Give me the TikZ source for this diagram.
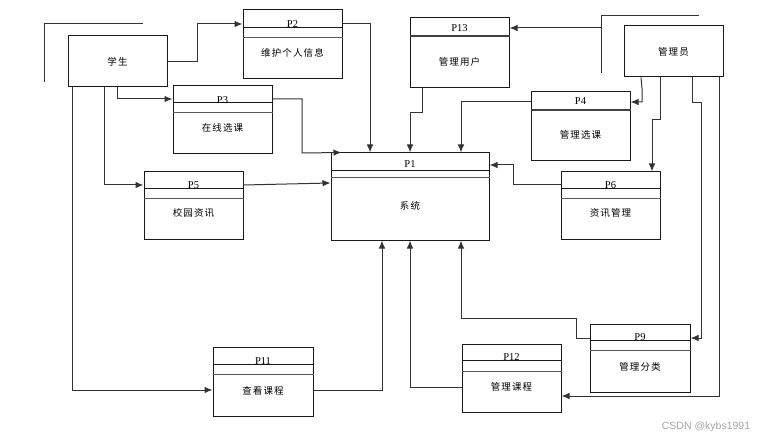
\documentclass[tikz,border=0pt]{standalone}
\usepackage{fontspec}
\setmainfont{Liberation Serif}
\newfontfamily\cjk[LetterSpace=12]{Noto Sans CJK SC}
\newfontfamily\wmfont{Liberation Sans}
\usetikzlibrary{calc}
\usetikzlibrary{arrows.meta}
\usetikzlibrary{positioning}

\tikzset{
  proc/.style={draw=black!90,line width=1pt,minimum width=99pt,inner sep=0pt},
  ent/.style={draw=black!90,line width=1pt,minimum width=99pt,minimum height=51pt,inner sep=0pt,font=\cjk\fontsize{9.5}{10}\selectfont},
  ttl/.style={anchor=base,inner sep=0pt,font=\fontsize{10.5}{11}\selectfont},
  lbl/.style={inner sep=0pt,font=\cjk\fontsize{9.5}{10}\selectfont},
  flow/.style={draw=black!80,line width=1pt,-{Latex[length=8pt,width=6.5pt]}},
  wire/.style={draw=black!80,line width=1pt}
}

\begin{document}
\begin{tikzpicture}[x=1pt,y=-1pt]
\useasboundingbox (0,0) rectangle (777,441);

% external entities
\node[ent] (stu) at (117.5,61.5) {学生};
\node[ent] (adm) at (673.5,51.5) {管理员};
\draw[wire] (44,82) -- (44,24) -- (143,24);
\draw[wire] (601,73) -- (601,16) -- (699,16);
\coordinate (admline) at (601,28);

% processes
\node[proc,minimum height=87pt,minimum width=158pt] (p1) at (410,196.5) {};
\node[proc,minimum height=69pt] (p2) at (292.5,44.5) {};
\node[proc,minimum height=68pt] (p3) at (222.5,120) {};
\node[proc,minimum height=69pt] (p4) at (580.5,126.5) {};
\node[proc,minimum height=67pt] (p5) at (193.5,205.5) {};
\node[proc,minimum height=67pt] (p6) at (610.5,205.5) {};
\node[proc,minimum height=68pt,minimum width=100pt] (p9) at (640,358) {};
\node[proc,minimum height=69pt,minimum width=100pt] (p11) at (263,381.5) {};
\node[proc,minimum height=68pt] (p12) at (511.5,378) {};
\node[proc,minimum height=70pt] (p13) at (459.5,53) {};

% title bars
\foreach \n/\a/\b in {p1/18/25,p2/18/28,p3/17/27,p5/17/27,p6/17/27,p9/17/27,p11/18/28,p12/17/28}{
  \draw[draw=black!90,line width=1pt] ($(\n.north west)+(0,\a)$) -- ($(\n.north east)+(0,\a)$);
  \draw[draw=black!65,line width=1.3pt] ($(\n.north west)+(0,\b)$) -- ($(\n.north east)+(0,\b)$);
}
\foreach \n in {p4,p13}{
  \draw[draw=black!75,line width=2pt] ($(\n.north west)+(0,19)$) -- ($(\n.north east)+(0,19)$);
}

% titles
\node[ttl] (p1t) at ($(p1.north)+(0,15)$) {P1};
\node[ttl] (p2t) at ($(p2.north)+(0,18)$) {P2};
\node[ttl] (p3t) at ($(p3.north)+(0,18)$) {P3};
\node[ttl] (p4t) at ($(p4.north)+(0,13.5)$) {P4};
\node[ttl] (p5t) at ($(p5.north)+(0,17)$) {P5};
\node[ttl] (p6t) at ($(p6.north)+(0,17)$) {P6};
\node[ttl] (p9t) at ($(p9.north)+(0,17)$) {P9};
\node[ttl] (p11t) at ($(p11.north)+(0,18)$) {P11};
\node[ttl] (p12t) at ($(p12.north)+(0,17)$) {P12};
\node[ttl] (p13t) at ($(p13.north)+(0,14)$) {P13};

% labels
\node[lbl] (p1l) at ($(p1.north)+(0,53)$) {系统};
\node[lbl] (p2l) at ($(p2.north)+(0,43)$) {维护个人信息};
\node[lbl] (p3l) at ($(p3.north)+(0,42)$) {在线选课};
\node[lbl] (p4l) at ($(p4.north)+(0,43)$) {管理选课};
\node[lbl] (p5l) at ($(p5.north)+(0,41)$) {校园资讯};
\node[lbl] (p6l) at ($(p6.north)+(0,41)$) {资讯管理};
\node[lbl] (p9l) at ($(p9.north)+(0,43)$) {管理分类};
\node[lbl] (p11l) at ($(p11.north)+(0,44)$) {查看课程};
\node[lbl] (p12l) at ($(p12.north)+(0,43)$) {管理课程};
\node[lbl] (p13l) at ($(p13.north)+(0,44)$) {管理用户};

% student side
\draw[flow] (stu.east) -| (197,24) -- (p2.west |- 0,24);
\draw[flow] (stu.south) |- (p3.west |- 0,99);
\draw[flow] (stu.south -| 104,0) |- (p5.west |- 0,185);
\draw[flow] (stu.south -| 72,0) |- (p11.west |- 0,390);

% into P1
\draw[flow] (p2.east |- 0,24) -| (p1.north -| 370,0);
\draw[flow] (p3.east |- 0,99) -| (302,153) -- ($(p1.north west)+(11,0)$);
\draw[flow] (p5.east |- 0,185) -- (p1.west |- 0,183);
\draw[flow] (p13.south -| 422,0) -- (422,113) -| (p1.north);
\draw[flow] (p4.west |- 0,102) -| (p1.north -| 461,0);
\draw[flow] (p6.west |- 0,185) -| (513,165) -- (p1.east |- 0,165);
\draw[flow] (p11.east |- 0,390) -| (p1.south -| 382,0);
\draw[flow] (p12.west |- 0,387) -| (p1.south);
\draw[flow] (p9.west |- 0,338) -| (576,318) -| (p1.south -| 461,0);

% administrator side
\draw[flow] (admline) -- (p13.east |- 0,28);
\draw[flow] (adm.south -| 641,0) -- (642,88) |- (p4.east |- 0,102);
\draw[flow] (adm.south -| 660,0) |- (652,120) -- (p6.north -| 652,0);
\draw[flow] (adm.south -| 692,0) |- (701,103) |- (p9.east |- 0,338);
\draw[flow] (adm.south -| 719,0) |- (p12.east |- 0,396);

% watermark
\node[inner sep=0pt,text=black!35,font=\wmfont\fontsize{10.5}{12}\selectfont] (wm) at (706,427) {CSDN @kybs1991};
\end{tikzpicture}
\end{document}
